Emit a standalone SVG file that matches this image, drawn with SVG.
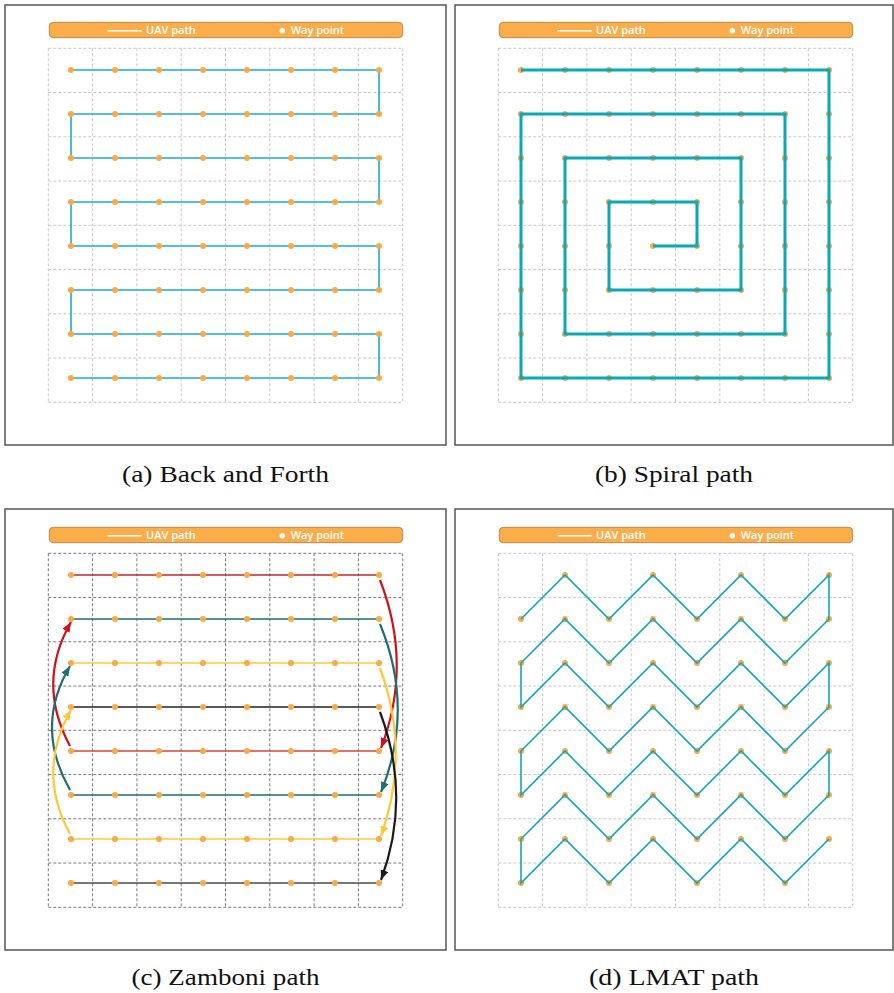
<svg xmlns="http://www.w3.org/2000/svg" xmlns:xlink="http://www.w3.org/1999/xlink" width="894" height="993" viewBox="0 0 894 993">
<style>
.frame{fill:#fff;stroke:#555;stroke-width:1.5}
.grid{fill:none;stroke:#c8c8c8;stroke-width:1;stroke-dasharray:3 2}
.gridc{fill:none;stroke:#7a7a7a;stroke-width:1;stroke-dasharray:3 2}
.legbox{fill:#fbad4a;stroke:#a77a3c;stroke-width:0.8}
.legtxt{font-family:"Open Sans","Noto Sans",sans-serif;font-weight:600;font-size:11px;fill:#fff}
.dot{fill:#f9aa45}
.cap{font-family:"Liberation Serif","Times New Roman",serif;font-size:23px;fill:#111;text-anchor:middle}
.pa{fill:none;stroke:#1bb0be;stroke-width:1.6;stroke-linejoin:miter}
.pb{fill:none;stroke:#0ba8b6;stroke-width:3;stroke-linejoin:miter}
.pd{fill:none;stroke:#12a9b7;stroke-width:1.6;stroke-linejoin:miter}
.row{fill:none;stroke-width:1.5}
.arc{fill:none;stroke-width:2.2}
</style>
<defs>
<marker id="arRed" markerUnits="userSpaceOnUse" markerWidth="10" markerHeight="8" viewBox="0 0 10 8" refX="10" refY="4" orient="auto"><path d="M0,0 L10,4 L0,8 z" fill="#d0101a"/></marker>
<marker id="arTeal" markerUnits="userSpaceOnUse" markerWidth="10" markerHeight="8" viewBox="0 0 10 8" refX="10" refY="4" orient="auto"><path d="M0,0 L10,4 L0,8 z" fill="#1d6e75"/></marker>
<marker id="arYel" markerUnits="userSpaceOnUse" markerWidth="10" markerHeight="8" viewBox="0 0 10 8" refX="10" refY="4" orient="auto"><path d="M0,0 L10,4 L0,8 z" fill="#ffc83a"/></marker>
<marker id="arBlk" markerUnits="userSpaceOnUse" markerWidth="10" markerHeight="8" viewBox="0 0 10 8" refX="10" refY="4" orient="auto"><path d="M0,0 L10,4 L0,8 z" fill="#1a1a1a"/></marker>
<path id="gridpath" d="M48.3,48.3V402.3M92.6,48.3V402.3M136.9,48.3V402.3M181.2,48.3V402.3M225.5,48.3V402.3M269.8,48.3V402.3M314.1,48.3V402.3M358.4,48.3V402.3M402.7,48.3V402.3M48.3,48.3H402.7M48.3,92.55H402.7M48.3,136.8H402.7M48.3,181.05H402.7M48.3,225.3H402.7M48.3,269.55H402.7M48.3,313.8H402.7M48.3,358.05H402.7M48.3,402.3H402.7"/>
<g id="legend">
<rect class="legbox" x="49.3" y="22.3" width="353.4" height="15.4" rx="4"/>
<line x1="107.7" y1="30.7" x2="141.7" y2="30.7" stroke="#fff" stroke-width="1.5"/>
<text class="legtxt" x="146" y="34.4">UAV path</text>
<circle cx="282.3" cy="30.7" r="2.7" fill="#fff"/>
<text class="legtxt" x="290.7" y="34.4">Way point</text>
</g>
<g id="dotrow">
<circle class="dot" cx="71" cy="0" r="3"/><circle class="dot" cx="115" cy="0" r="3"/><circle class="dot" cx="159" cy="0" r="3"/><circle class="dot" cx="203" cy="0" r="3"/><circle class="dot" cx="247" cy="0" r="3"/><circle class="dot" cx="291" cy="0" r="3"/><circle class="dot" cx="335" cy="0" r="3"/><circle class="dot" cx="379" cy="0" r="3"/>
</g>
<g id="dots64">
<use xlink:href="#dotrow" y="70"/><use xlink:href="#dotrow" y="114"/><use xlink:href="#dotrow" y="158"/><use xlink:href="#dotrow" y="202"/><use xlink:href="#dotrow" y="246"/><use xlink:href="#dotrow" y="290"/><use xlink:href="#dotrow" y="334"/><use xlink:href="#dotrow" y="378"/>
</g>
</defs>

<rect width="894" height="993" fill="#fff"/>

<!-- Panel (a) -->
<g id="panel-a">
<rect class="frame" x="5" y="5" width="441" height="440"/>
<use xlink:href="#gridpath" class="grid"/>
<use xlink:href="#legend"/>
<g id="connectors-a">
<path class="pa" d="M71,70H379V114H71V158H379V202H71V246H379V290H71V334H379V378H71"/>
</g>
<g id="waypoints-a"><use xlink:href="#dots64"/></g>
<text class="cap" x="225.5" y="482" textLength="207" lengthAdjust="spacingAndGlyphs">(a) Back and Forth</text>
</g>

<!-- Panel (b) -->
<g id="panel-b">
<rect class="frame" x="455" y="5" width="438" height="440"/>
<g transform="translate(450,0)">
<use xlink:href="#gridpath" class="grid"/>
<use xlink:href="#legend"/>
<g id="waypoints-b"><use xlink:href="#dots64"/></g>
<g id="connectors-b">
<path class="pb" d="M71,70H379V378H71V114H335V334H115V158H291V290H159V202H247V246H203"/>
</g>
</g>
<text class="cap" x="674" y="482" textLength="158" lengthAdjust="spacingAndGlyphs">(b) Spiral path</text>
</g>

<!-- Panel (c) -->
<g id="panel-c">
<rect class="frame" x="5" y="509" width="441" height="441"/>
<g transform="translate(0,505)">
<use xlink:href="#gridpath" class="gridc"/>
<use xlink:href="#legend"/>
<g id="connectors-c">
<path class="row" stroke="#c0282a" d="M71,70H379"/>
<path class="row" stroke="#1d6e75" d="M71,114H379"/>
<path class="row" stroke="#ffc83a" d="M71,158H379"/>
<path class="row" stroke="#222" d="M71,202H379"/>
<path class="row" stroke="#d9463c" stroke-width="2" d="M71,246H379"/>
<path class="row" stroke="#1d6e75" d="M71,290H379"/>
<path class="row" stroke="#ffc83a" d="M71,334H379"/>
<path class="row" stroke="#4a4a4a" d="M71,378H379"/>
<path class="arc" stroke="#d0101a" marker-end="url(#arRed)" d="M380,75Q413,160 381,243"/>
<path class="arc" stroke="#1d6e75" marker-end="url(#arTeal)" d="M380,119Q415,204 381,287"/>
<path class="arc" stroke="#ffc83a" marker-end="url(#arYel)" d="M380,163Q411,248 381,331"/>
<path class="arc" stroke="#1a1a1a" marker-end="url(#arBlk)" d="M380,207Q412,292 381,375"/>
<path class="arc" stroke="#d0101a" marker-end="url(#arRed)" d="M70,241Q36,178 71,117"/>
<path class="arc" stroke="#1d6e75" marker-end="url(#arTeal)" d="M70,285Q34,222 70,161"/>
<path class="arc" stroke="#ffc83a" marker-end="url(#arYel)" d="M70,329Q36,266 71,205"/>
</g>
<g id="waypoints-c"><use xlink:href="#dots64"/></g>
</g>
<text class="cap" x="225.5" y="985" textLength="188" lengthAdjust="spacingAndGlyphs">(c) Zamboni path</text>
</g>

<!-- Panel (d) -->
<g id="panel-d">
<rect class="frame" x="455" y="509" width="438" height="441"/>
<g transform="translate(450,505)">
<use xlink:href="#gridpath" class="grid"/>
<use xlink:href="#legend"/>
<g id="waypoints-d">
<circle class="dot" cx="115" cy="70" r="3"/><circle class="dot" cx="203" cy="70" r="3"/><circle class="dot" cx="291" cy="70" r="3"/><circle class="dot" cx="379" cy="70" r="3"/>
<use xlink:href="#dotrow" y="114"/><use xlink:href="#dotrow" y="158"/><use xlink:href="#dotrow" y="202"/><use xlink:href="#dotrow" y="246"/><use xlink:href="#dotrow" y="290"/><use xlink:href="#dotrow" y="334"/>
<circle class="dot" cx="71" cy="378" r="3"/><circle class="dot" cx="159" cy="378" r="3"/><circle class="dot" cx="247" cy="378" r="3"/><circle class="dot" cx="335" cy="378" r="3"/>
</g>
<g id="connectors-d">
<polyline class="pd" points="71,114 115,70 159,114 203,70 247,114 291,70 335,114 379,70 379,114 335,158 291,114 247,158 203,114 159,158 115,114 71,158 71,202 115,158 159,202 203,158 247,202 291,158 335,202 379,158 379,202 335,246 291,202 247,246 203,202 159,246 115,202 71,246 71,290 115,246 159,290 203,246 247,290 291,246 335,290 379,246 379,290 335,334 291,290 247,334 203,290 159,334 115,290 71,334 71,378 115,334 159,378 203,334 247,378 291,334 335,378 379,334"/>
</g>
</g>
<text class="cap" x="674" y="985" textLength="170" lengthAdjust="spacingAndGlyphs">(d) LMAT path</text>
</g>
</svg>
